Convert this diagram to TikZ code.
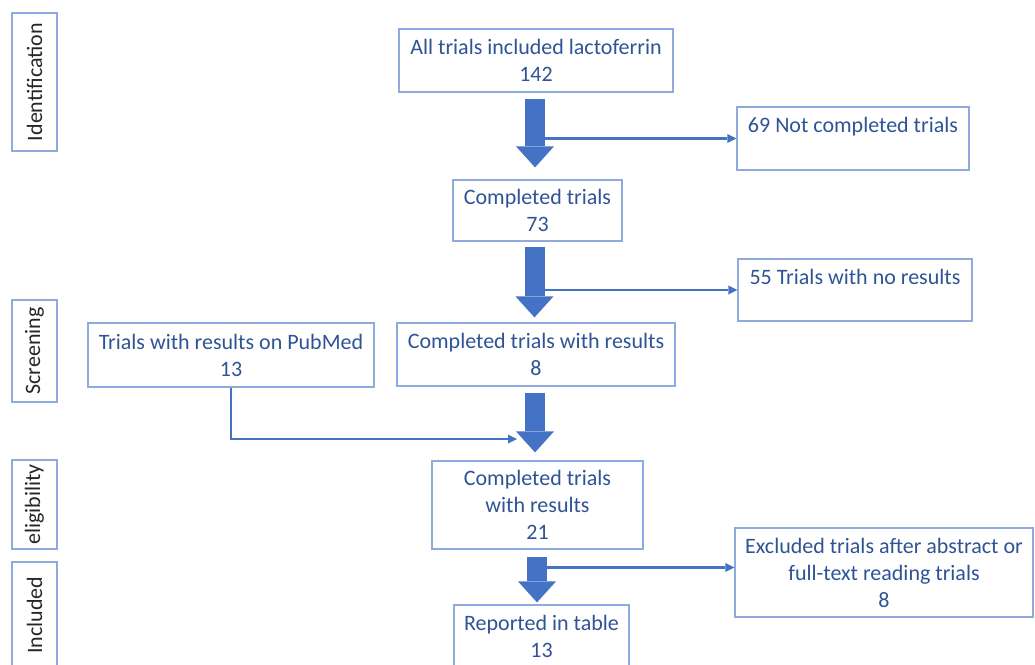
\documentclass[tikz,border=0pt]{standalone}
\usepackage{fontspec}
\setmainfont{Carlito}
\usetikzlibrary{arrows.meta}
\definecolor{flowfill}{HTML}{4472C4}
\definecolor{flowedge}{HTML}{8FAADC}
\definecolor{flowtext}{HTML}{2F5496}
\begin{document}
\begin{tikzpicture}[
  x=1pt, y=-1pt,
  every node/.style={font=\fontsize{22}{27}\selectfont, text=flowtext},
  box/.style={draw=flowedge, line width=1.2pt, fill=white, align=center, inner sep=2pt},
  phase/.style={draw=flowedge, line width=1.2pt, rotate=90, minimum height=45pt, text=black!85, inner sep=0pt},
  bigflow/.style={draw=flowfill, line width=20pt, -{Triangle[width=38pt,length=21pt,line width=0pt]}},
  link/.style={draw=flowfill, line width=2.5pt, -{Triangle[width=9pt,length=9pt,line width=0pt]}}
]
\useasboundingbox (0,0) rectangle (1035,664);
\node[phase, minimum width=138pt] (ident) at (34.5,82) {Identification};
\node[phase, minimum width=102pt] (screen) at (34.5,351) {Screening};
\node[phase, minimum width=89pt] (elig) at (34.5,504.5) {eligibility};
\node[phase, minimum width=106pt] (incl) at (34.5,615) {Included};

\node[box, minimum width=274pt, minimum height=63pt] (all) at (536,60.5) {All trials included lactoferrin\\142};
\node[box, minimum width=232pt, minimum height=63pt] (notdone) at (853,138.5) {69 Not completed trials\\~};
\node[box, minimum width=169pt, minimum height=61pt] (done) at (537.5,210.5) {Completed trials\\73};
\node[box, minimum width=234pt, minimum height=62pt] (nores) at (855,290) {55 Trials with no results\\~};
\node[box, minimum width=286pt, minimum height=64pt] (pubmed) at (231,355) {Trials with results on PubMed\\13};
\node[box, minimum width=278pt, minimum height=63pt] (withres) at (536,354.5) {Completed trials with results\\8};
\node[box, minimum width=211pt, minimum height=88pt] (pooled) at (537.5,505) {Completed trials\\with results\\21};
\node[box, minimum width=298pt, minimum height=89pt] (excl) at (884,572.5) {Excluded trials after abstract or\\full-text reading trials\\8};
\node[box, minimum width=175pt, minimum height=63pt] (table) at (541.5,636.5) {Reported in table\\13};

\coordinate (merge) at (517,439);
\draw[link] (all.south |- notdone.west) -- (notdone.west);
\draw[link] (done.south |- nores.west) -- (nores.west);
\draw[link] (pubmed.south) |- (merge);
\draw[link] ([yshift=5pt]pooled.south |- excl.west) -- ([yshift=5pt]excl.west);

\draw[bigflow, shorten <=6pt, shorten >=12pt] ([xshift=-1pt]all.south) -- ([xshift=-1pt]all.south |- done.north);
\draw[bigflow, shorten <=5pt, shorten >=5pt] ([xshift=-3pt]done.south) -- ([xshift=-3pt]done.south |- withres.north);
\draw[bigflow, shorten <=6pt, shorten >=8pt] ([xshift=-1pt]withres.south) -- ([xshift=-1pt]withres.south |- pooled.north);
\draw[bigflow, shorten <=7pt, shorten >=2pt] ([xshift=-0.5pt]pooled.south) -- ([xshift=-0.5pt]pooled.south |- table.north);
\end{tikzpicture}
\end{document}
